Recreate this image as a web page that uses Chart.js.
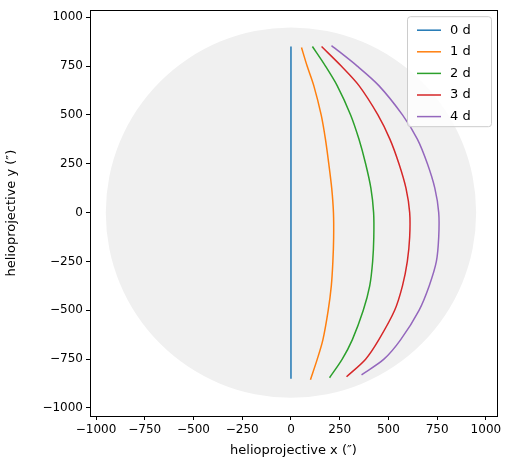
<!DOCTYPE html>
<html><head><script src="https://cdn.jsdelivr.net/npm/chart.js"></script>
<style>body{margin:0;background:#fff}#w{width:511px;height:468px}</style></head>
<body><div id="w"><canvas id="c"></canvas></div>
<script>
const labels=['0 d','1 d','2 d','3 d','4 d'];
const colors=['#1f77b4','#ff7f0e','#2ca02c','#d62728','#9467bd'];
const yVals=[850,750,650,500,375,250,125,0,-125,-250,-375,-500,-650,-750,-850];
const x0=[0,0,0,0,0,0,0,0,0,0,0,0,0,0,0];
const x1=[54,83,117,155,177,194,209,218,219,215,207,191,164,135,100];
const x2=[110,177,237,306,349,383,410,424,425,419,404,371,315,263,198];
const x3=[157,258,349,446,508,554,590,609,609,597,572,532,451,383,285];
const x4=[208,340,451,572,649,700,738,758,758,746,709,657,563,477,362];
const yEnds=[[850,-850],[845,-855],[850,-845],[850,-840],[855,-830]];
const diskRadius=950;
const tickVals=[-1000,-750,-500,-250,0,250,500,750,1000];
const xs=[x0,x1,x2,x3,x4];
const datasets=xs.map((xa,i)=>({label:labels[i],borderColor:colors[i],borderWidth:1.5,pointRadius:0,showLine:true,tension:0.3,
 data:xa.map((x,j)=>({x:x,y:j===0?yEnds[i][0]:(j===yVals.length-1?yEnds[i][1]:yVals[j])}))}));
const disk={id:'disk',beforeDatasetsDraw(ch){const {ctx,scales:{x,y}}=ch;const cx=x.getPixelForValue(0),cy=y.getPixelForValue(0);
 const r=x.getPixelForValue(diskRadius)-cx;ctx.save();ctx.fillStyle='#f0f0f0';ctx.beginPath();ctx.arc(cx,cy,r,0,2*Math.PI);ctx.fill();ctx.restore();}};
const leg={id:'leg',afterDraw(ch){const ctx=ch.ctx,a=ch.chartArea;
 ctx.save();ctx.strokeStyle='#000';ctx.lineWidth=1;ctx.strokeRect(Math.round(a.left)+.5,Math.round(a.top)+.5,Math.round(a.right-a.left),Math.round(a.bottom-a.top));
 const w=84,h=110,lx=a.right-w-6,ly=a.top+6;
 ctx.fillStyle='rgba(255,255,255,0.8)';ctx.strokeStyle='#ccc';ctx.beginPath();ctx.roundRect(lx+.5,ly+.5,w,h,3);ctx.fill();ctx.stroke();
 ctx.font='13px "DejaVu Sans"';ctx.textBaseline='middle';
 labels.forEach((l,i)=>{const yy=ly+14+i*21.6;ctx.strokeStyle=colors[i];ctx.lineWidth=1.5;ctx.beginPath();ctx.moveTo(lx+10,yy);ctx.lineTo(lx+34,yy);ctx.stroke();ctx.fillStyle='#000';ctx.fillText(l,lx+43,yy);});ctx.restore();}};
const fixTicks=ax=>{ax.ticks=tickVals.map(v=>({value:v}));};
const tk={color:'#000',font:{family:'DejaVu Sans',size:12},padding:3};
const gr={display:true,drawOnChartArea:false,drawTicks:true,tickLength:4,color:'#000'};
new Chart(document.getElementById('c'),{type:'scatter',data:{datasets},plugins:[disk,leg],
options:{responsive:true,maintainAspectRatio:false,animation:false,layout:{padding:{top:10,right:14,left:0,bottom:6}},
plugins:{legend:{display:false},tooltip:{enabled:false}},
scales:{x:{type:'linear',min:-1031,max:1057,afterBuildTicks:fixTicks,grid:gr,border:{color:'#000'},
 ticks:{...tk,autoSkip:false,maxRotation:0,callback:v=>String(v).replace('-','\u2212')},
 title:{display:true,text:'helioprojective x (\u2033)',color:'#000',font:{family:'DejaVu Sans',size:13},padding:{top:2}}},
 y:{type:'linear',min:-1041,max:1036,afterBuildTicks:fixTicks,afterFit(s){s.width=90;},grid:gr,border:{color:'#000'},
 ticks:{...tk,autoSkip:false,callback:v=>String(v).replace('-','\u2212')},
 title:{display:true,text:'helioprojective y (\u2033)',color:'#000',font:{family:'DejaVu Sans',size:13}}}}}});
</script></body></html>
